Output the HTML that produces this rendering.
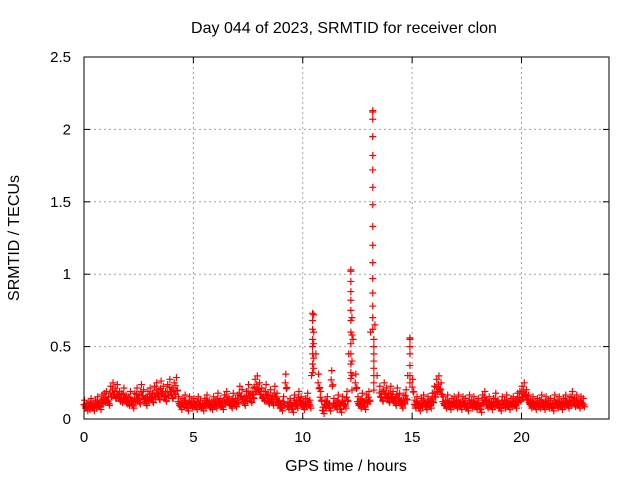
<!DOCTYPE html>
<html><head><meta charset="utf-8"><style>
body{margin:0;background:#fff;}
svg{display:block;font-family:"Liberation Sans",sans-serif;}
</style></head><body>
<svg id="chart" width="640" height="480">
<rect width="640" height="480" fill="#fff"/>
<text x="344" y="33" text-anchor="middle" font-size="16">Day 044 of 2023, SRMTID for receiver clon</text>
<text x="346" y="471" text-anchor="middle" font-size="16">GPS time / hours</text>
<text transform="translate(19,238) rotate(-90)" text-anchor="middle" font-size="16">SRMTID / TECUs</text>
<g id="grid"></g><g id="marks"></g><g id="axes"></g>
</svg>
<script>
const xTicks=[0,5,10,15,20];
const yTicks=[0,0.5,1,1.5,2,2.5];
const yTickLabels=["0","0.5","1","1.5","2","2.5"];
const baseStart=0, baseStep=0.1;
const baseValues=[0.10,0.08,0.09,0.11,0.08,0.10,0.12,0.09,0.13,0.14,
0.15,0.12,0.18,0.20,0.17,0.19,0.15,0.14,0.17,0.13,
0.12,0.15,0.10,0.14,0.17,0.13,0.19,0.16,0.12,0.15,
0.17,0.14,0.18,0.20,0.16,0.21,0.18,0.15,0.19,0.22,
0.17,0.20,0.23,0.12,0.09,0.11,0.13,0.08,0.12,0.10,
0.11,0.09,0.12,0.10,0.08,0.11,0.13,0.10,0.09,0.12,
0.10,0.14,0.11,0.09,0.13,0.15,0.12,0.10,0.14,0.11,
0.13,0.18,0.16,0.12,0.15,0.19,0.14,0.17,0.22,0.24,
0.20,0.17,0.15,0.19,0.13,0.16,0.12,0.18,0.14,0.10,
0.08,0.12,0.25,0.09,0.11,0.07,0.13,0.10,0.15,0.12,
0.09,0.11,0.14,0.10,0.30,0.72,0.45,0.25,0.15,0.06,
0.10,0.12,0.08,0.27,0.11,0.09,0.13,0.07,0.12,0.10,
0.15,0.45,1.02,0.55,0.25,0.12,0.10,0.14,0.09,0.13,
0.15,0.60,2.12,0.65,0.30,0.18,0.15,0.20,0.17,0.14,
0.18,0.15,0.12,0.17,0.14,0.10,0.13,0.16,0.30,0.55,
0.22,0.10,0.12,0.08,0.11,0.13,0.09,0.12,0.10,0.14,
0.18,0.22,0.24,0.20,0.12,0.10,0.13,0.09,0.11,0.12,
0.10,0.13,0.09,0.12,0.11,0.08,0.13,0.10,0.12,0.09,
0.11,0.07,0.13,0.15,0.10,0.12,0.09,0.11,0.14,0.10,
0.08,0.12,0.10,0.13,0.09,0.11,0.12,0.10,0.14,0.15,
0.18,0.20,0.16,0.13,0.10,0.12,0.09,0.11,0.10,0.13,
0.09,0.12,0.10,0.11,0.08,0.13,0.10,0.12,0.09,0.11,
0.13,0.10,0.12,0.15,0.11,0.13,0.10,0.12,0.11];
const peakTimes=[10.45,10.5,12.2,12.25,13.2,13.25,14.9];
const peakValues=[[0.73,0.68,0.62,0.55,0.5,0.45,0.38,0.32],[0.6,0.52,0.42,0.35],
[1.03,0.95,0.88,0.82,0.75,0.68,0.6,0.52,0.45,0.38,0.32,0.28],[0.7,0.58,0.4,0.3,0.2],
[2.13,2.07,1.95,1.82,1.72,1.6,1.48,1.33,1.2,1.08,0.97,0.87,0.78,0.7,0.62],[0.55,0.5,0.45,0.4,0.35,0.3,0.25,0.2],
[0.56,0.5,0.45,0.37,0.3,0.25]];
const L=84,R=609,T=57,B=419;
const xs=t=>L+t/24*(R-L), ys=v=>B-v/2.5*(B-T);
const NS="http://www.w3.org/2000/svg";
function mk(tag,attrs,parent){const e=document.createElementNS(NS,tag);for(const k in attrs)e.setAttribute(k,attrs[k]);parent.appendChild(e);return e;}
const grid=document.getElementById('grid'),axes=document.getElementById('axes'),marks=document.getElementById('marks');
xTicks.forEach(t=>{const x=xs(t);
 if(t>0){const g=mk('line',{x1:x,x2:x,y1:T,y2:B,stroke:'#a0a0a0','stroke-dasharray':'2,3'},grid);
 
 }
 mk('line',{x1:x,x2:x,y1:B,y2:B-6,stroke:'#000'},axes);
 mk('line',{x1:x,x2:x,y1:T,y2:T+6,stroke:'#000'},axes);
 const lb=mk('text',{x:x,y:B+23,'text-anchor':'middle','font-size':15},axes);lb.textContent=t;
 
 });
yTicks.forEach((v,i)=>{const y=ys(v);
 if(v>0&&v<2.5){const g=mk('line',{x1:L,x2:R,y1:y,y2:y,stroke:'#a0a0a0','stroke-dasharray':'2,3'},grid);
 
 }
 mk('line',{x1:L,x2:L+6,y1:y,y2:y,stroke:'#000'},axes);
 mk('line',{x1:R,x2:R-6,y1:y,y2:y,stroke:'#000'},axes);
 const lb=mk('text',{x:L-13,y:y+5,'text-anchor':'end','font-size':15},axes);lb.textContent=yTickLabels[i];
 
 });
const fr=mk('rect',{x:L,y:T,width:R-L,height:B-T,fill:'none',stroke:'#000'},axes);


function plus(t,v,c){const x=xs(t),y=ys(v);
 const p=mk('path',{d:`M${x-3.5},${y}h7M${x},${y-3.5}v7`,stroke:c,'stroke-width':1.2,fill:'none'},marks);
 
 }
baseValues.forEach((v,i)=>{const t=baseStart+i*baseStep;
 plus(t,v,'#f00');
 if(v<0.3){plus(t+0.05,v*0.8+0.01,'#f00');plus(t+0.025,v*1.2+0.01,'#f00');plus(t+0.075,v*0.95-0.02,'#f00');}});
peakTimes.forEach((t,i)=>peakValues[i].forEach(v=>plus(t,v,'#f00')));
</script>
</body></html>
